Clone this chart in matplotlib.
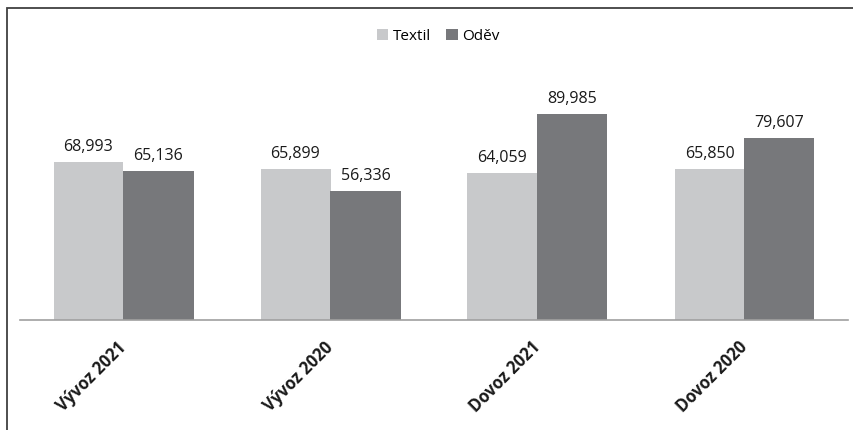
import matplotlib.pyplot as plt
import numpy as np
from matplotlib.patches import Rectangle

# data
categories = ["Vývoz 2021", "Vývoz 2020", "Dovoz 2021", "Dovoz 2020"]
textil = [68993, 65899, 64059, 65850]
odev = [65136, 56336, 89985, 79607]

plt.rcParams['font.family'] = ['Open Sans', 'DejaVu Sans']

fig = plt.figure(figsize=(8.54, 4.31), dpi=100)
W, H = 854, 431
# axes: x 20..848 px, y 42..321 px (from top)
ax = fig.add_axes([20 / W, (H - 321) / H, 828 / W, 279 / H])

x = np.arange(len(categories))
w = 70 / 207
b1 = ax.bar(x - w / 2, textil, w, color="#c8c9cb", label="Textil")
b2 = ax.bar(x + w / 2, odev, w, color="#77787b", label="Oděv")

for bars in (b1, b2):
    for r in bars:
        ax.text(r.get_x() + r.get_width() / 2, r.get_height() + 3500,
                f"{int(r.get_height()):,}", ha="center", va="bottom",
                fontsize=11.5, color="#1a1a1a")

ax.set_xlim(-0.5, 3.5)
ax.set_ylim(0, 279 / 0.00229)
ax.set_yticks([])
for s in ["top", "right", "left"]:
    ax.spines[s].set_visible(False)
ax.spines["bottom"].set_color("#a0a0a0")
ax.spines["bottom"].set_linewidth(1.2)
ax.set_xticks(x)
ax.set_xticklabels(categories, rotation=45, ha="right", va="center",
                   rotation_mode="anchor", fontsize=12, fontweight="bold",
                   color="#1a1a1a")
ax.tick_params(axis="x", length=0, pad=17)

ax.legend(loc="center", bbox_to_anchor=(438 / W, (H - 37) / H),
          bbox_transform=fig.transFigure, ncol=2, frameon=False,
          fontsize=11, handlelength=0.75, handleheight=0.75,
          handletextpad=0.3, columnspacing=1.0)

# outer frame (cropped on right and bottom)
fig.patches.append(Rectangle((7 / W, -0.2), 1.2, (H - 9) / H + 0.2,
                             transform=fig.transFigure, fill=False,
                             edgecolor="#404040", linewidth=1.3))

fig.savefig("out.png", dpi=100)
